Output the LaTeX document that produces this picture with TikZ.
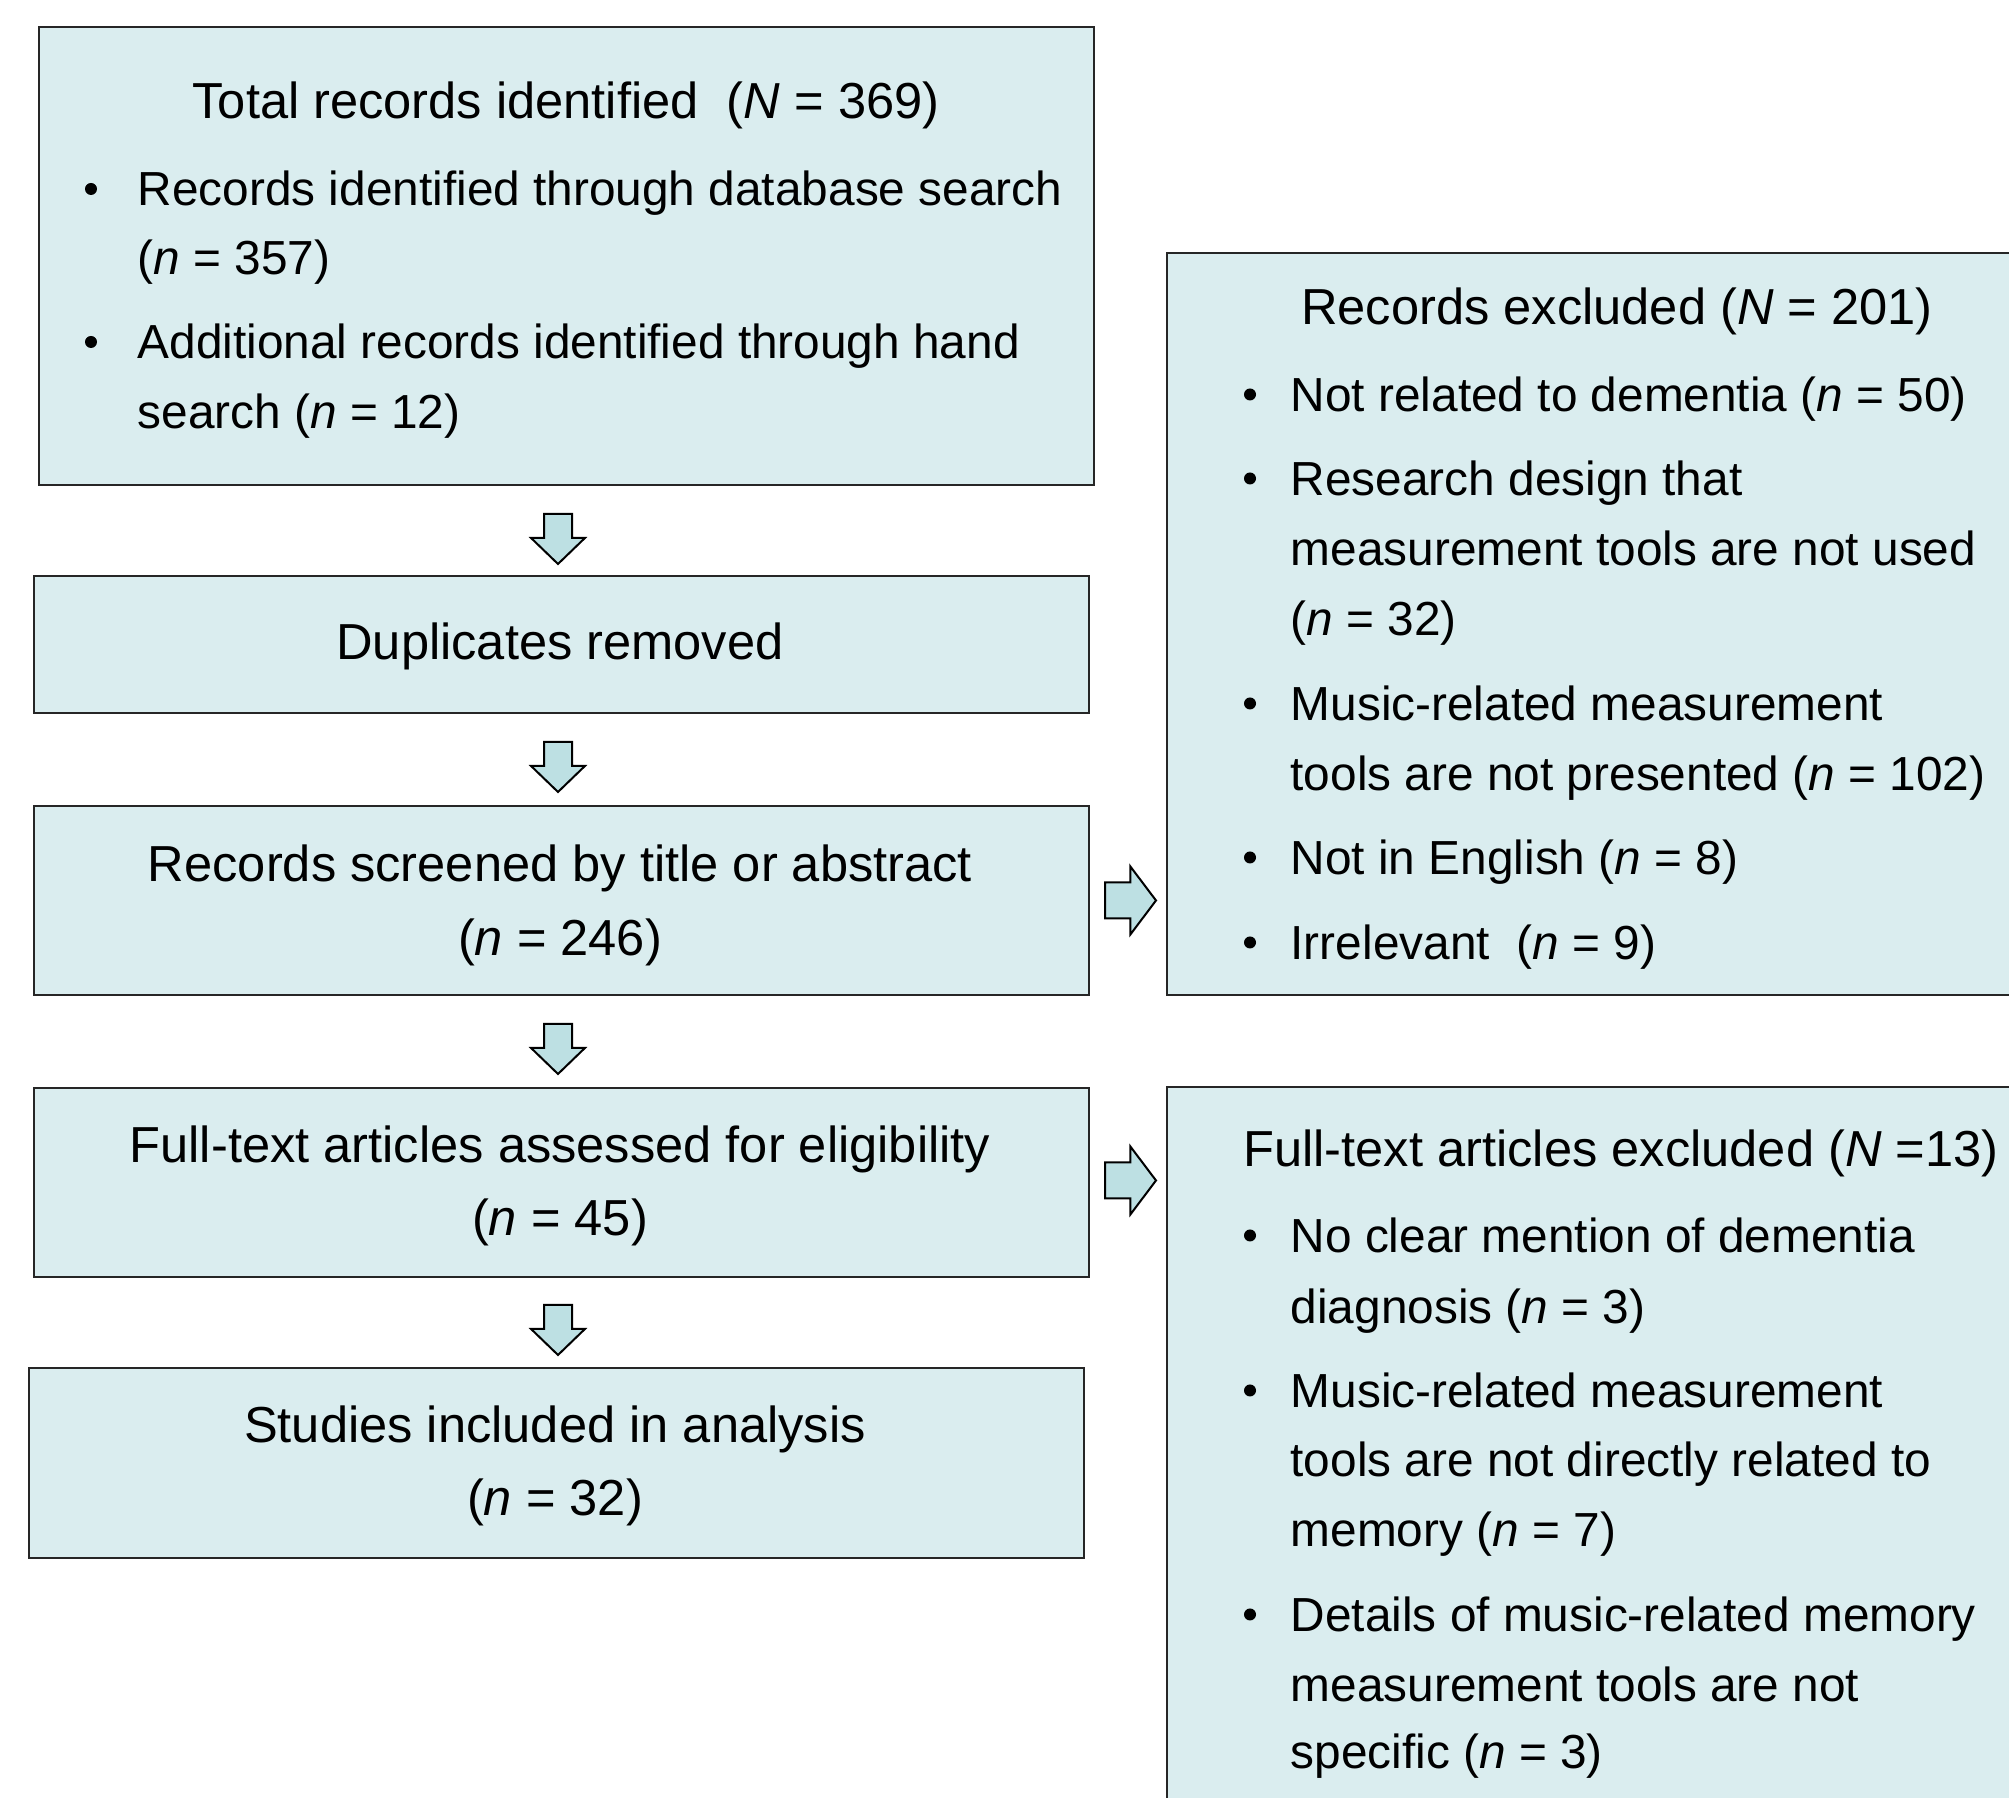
\documentclass[tikz,border=0pt]{standalone}
\usepackage{fontspec}
\setmainfont{Liberation Sans}
\usetikzlibrary{shapes.arrows,calc}
\newlength\unitpx
\setlength\unitpx{0.1mm}
\definecolor{boxfill}{RGB}{218,237,239}
\definecolor{arrowfill}{RGB}{189,224,227}
\tikzset{
  stage/.style={rectangle, draw=black!85, fill=boxfill, line width=2\unitpx, inner sep=0, anchor=north west},
  txt/.style={inner sep=0, font=\fontsize{13.6}{16}\selectfont},
  head/.style={inner sep=0, font=\fontsize{14.4}{17}\selectfont, anchor=base},
  dot/.style={circle, fill=black, inner sep=0, minimum size=12\unitpx},
  blockarrow/.style={single arrow, draw=black, fill=arrowfill, line width=2\unitpx, single arrow head indent=0pt},
  dnarrow/.style={blockarrow, inner sep=13\unitpx, minimum height=50\unitpx, minimum width=52\unitpx, single arrow head extend=13\unitpx, single arrow tip angle=92, shape border rotate=270},
  rtarrow/.style={blockarrow, inner sep=17\unitpx, minimum height=51\unitpx, minimum width=66\unitpx, single arrow head extend=16\unitpx, single arrow tip angle=106}
}
\begin{document}
\begin{tikzpicture}[x=0.1mm, y=-0.1mm]
    \clip (0,0) rectangle (2009,1798);
    % left column
    \node[stage, minimum width=1055\unitpx, minimum height=458\unitpx] (total) at (38,26) {};
    \node[stage, minimum width=1055\unitpx, minimum height=137\unitpx] (dup) at (33,575) {};
    \node[stage, minimum width=1055\unitpx, minimum height=189\unitpx] (screen) at (33,805) {};
    \node[stage, minimum width=1055\unitpx, minimum height=189\unitpx] (fulltext) at (33,1087) {};
    \node[stage, minimum width=1055\unitpx, minimum height=190\unitpx] (incl) at (28,1367) {};
    % right column
    \node[stage, minimum width=902\unitpx, minimum height=742\unitpx] (excl) at (1166,252) {};
    \node[stage, minimum width=902\unitpx, minimum height=800\unitpx] (ftexcl) at (1166,1086) {};
    % arrows
    \coordinate (spine) at (558,0);
    \node[dnarrow, anchor=tail] (a1) at ($(total.south -| spine)+(0,27)$) {};
    \node[dnarrow, anchor=tail] (a2) at ($(dup.south -| spine)+(0,27)$) {};
    \node[dnarrow, anchor=tail] (a3) at ($(screen.south -| spine)+(0,27)$) {};
    \node[dnarrow, anchor=tail] (a4) at ($(fulltext.south -| spine)+(0,26)$) {};
    \node[rtarrow, anchor=tail] (r1) at ($(screen.east)+(14,0)$) {};
    \node[rtarrow, anchor=tail] (r2) at ($(fulltext.east)+(14,-2)$) {};
    % centred texts
    \node[head] (t1) at (566,119) {Total records identified\ \ (\textit{N} = 369)};
    \node[head] (t2) at (560,660) {Duplicates removed};
    \node[head] (t3) at (560,882) {Records screened by title or abstract};
    \node[head] (t4) at (560,956) {(\textit{n} = 246)};
    \node[head] (t5) at (560,1163) {Full-text articles assessed for eligibility};
    \node[head] (t6) at (560,1236) {(\textit{n} = 45)};
    \node[head] (t7) at (555,1443) {Studies included in analysis};
    \node[head] (t8) at (555,1516) {(\textit{n} = 32)};
    \node[head] (t9) at (1617,325) {Records excluded (\textit{N} = 201)};
    \node[head] (t10) at (1621,1167) {Full-text articles excluded (\textit{N} =13)};
    % bulleted lines
    \foreach \y/\t in {206/{Records identified through database search}, 275/{(\textit{n} = 357)},
        359/{Additional records identified through hand}, 429/{search (\textit{n} = 12)}}
      \node[txt, anchor=base west] (tl\y) at (137,\y) {\t};
    \foreach \y in {206,359}
      \node[dot] (bl\y) at (91,\y-17) {};
    \foreach \y/\t in {412/{Not related to dementia (\textit{n} = 50)}, 496/{Research design that},
        566/{measurement tools are not used}, 636/{(\textit{n} = 32)},
        721/{Music-related measurement}, 791/{tools are not presented (\textit{n} = 102)},
        875/{Not in English (\textit{n} = 8)}, 960/{Irrelevant\ \ (\textit{n} = 9)},
        1253/{No clear mention of dementia}, 1324/{diagnosis (\textit{n} = 3)},
        1408/{Music-related measurement}, 1477/{tools are not directly related to},
        1547/{memory (\textit{n} = 7)}, 1632/{Details of music-related memory},
        1702/{measurement tools are not}, 1769/{specific (\textit{n} = 3)}}
      \node[txt, anchor=base west] (rl\y) at (1290,\y) {\t};
    \foreach \y in {412,496,721,875,960,1253,1408,1632}
      \node[dot] (br\y) at (1250,\y-17.5) {};
\end{tikzpicture}
\end{document}
